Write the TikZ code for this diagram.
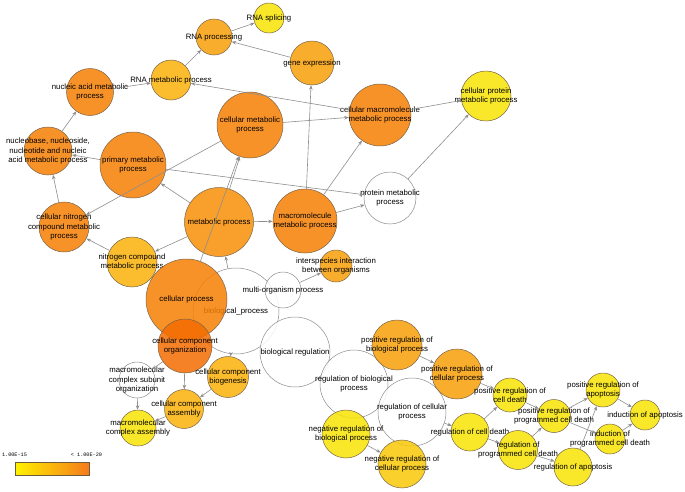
\documentclass[tikz,border=0pt]{standalone}
\usepackage{fontspec}
\setmainfont{Liberation Sans}
\newfontfamily\legendfont{Liberation Mono}
\usetikzlibrary{arrows.meta}
\definecolor{lvA}{HTML}{F36C00}
\definecolor{lvB}{HTML}{F67F04}
\definecolor{lvC}{HTML}{F88F07}
\definecolor{lvD}{HTML}{F89F08}
\definecolor{lvE}{HTML}{FAB109}
\definecolor{lvF}{HTML}{F8C807}
\definecolor{lvG}{HTML}{F7E404}
\definecolor{termrim}{HTML}{7A6448}
\definecolor{blankrim}{HTML}{8C8C8C}
\definecolor{linkgray}{HTML}{8E8E8E}
\definecolor{scalelow}{HTML}{FFF200}
\definecolor{scalehigh}{HTML}{F57A1A}
\definecolor{barrim}{HTML}{6E5A3C}
\tikzset{
    term/.style={circle, draw=termrim, line width=0.5pt, inner sep=0pt,
                 minimum size=#1pt, fill opacity=0.85},
    blank/.style={draw=blankrim, fill=white},
    termtext/.style={font=\fontsize{7.8}{9.5}\selectfont, align=center,
                     inner sep=0pt, text opacity=1, text=black},
    link/.style={draw=linkgray, line width=0.6pt,
                 -{Stealth[length=4.5pt, width=3.5pt]}},
    legendtext/.style={font=\legendfont\fontsize{5.2}{6}\selectfont, inner sep=0pt},
    legendbar/.style={draw=barrim, line width=0.6pt, left color=scalelow,
                      right color=scalehigh, minimum width=74pt,
                      minimum height=13pt, inner sep=0pt},
}

\begin{document}
\begin{tikzpicture}[x=1pt, y=-1pt]
    \useasboundingbox (0,0) rectangle (685,491);

    % metabolic part
    \node[term=30, fill=lvG, label={[termtext]center:RNA splicing}] (splice) at (269,18) {};
    \node[term=36, fill=lvD, label={[termtext]center:RNA processing}] (rnaproc) at (214,37) {};
    \node[term=44, fill=lvD, label={[termtext]center:gene expression}] (geneexp) at (312,63) {};
    \node[term=40, fill=lvE, label={[termtext]center:RNA metabolic process}] (rnamet) at (171,80) {};
    \node[term=47, fill=lvB, label={[termtext]center:{nucleic acid metabolic\\process}}] (nucacid) at (90,92) {};
    \node[term=66, fill=lvB, label={[termtext]center:{cellular metabolic\\process}}] (cellmet) at (250,125) {};
    \node[term=48, fill=lvB, label={[termtext]center:{nucleobase, nucleoside,\\nucleotide and nucleic\\acid metabolic process}}] (nucbase) at (48,151) {};
    \node[term=66, fill=lvB, label={[termtext]center:{primary metabolic\\process}}] (primet) at (133,165) {};
    \node[term=62, fill=lvB, label={[termtext]center:{cellular macromolecule\\metabolic process}}] (cmacro) at (380,115) {};
    \node[term=50, fill=lvG, label={[termtext]center:{cellular protein\\metabolic process}}] (cprot) at (486,96) {};
    \node[term=50, fill=lvB, label={[termtext]center:{cellular nitrogen\\compound metabolic\\process}}] (cnitro) at (64,227) {};
    \node[term=69, fill=lvC, label={[termtext]center:metabolic process}] (metab) at (219,222) {};
    \node[term=64, fill=lvB, label={[termtext]center:{macromolecule\\metabolic process}}] (macro) at (305,221) {};
    \node[term=50, fill=lvE, label={[termtext]center:{nitrogen compound\\metabolic process}}] (nitro) at (132,262) {};
    \node[term=52, blank, label={[termtext]center:{protein metabolic\\process}}] (protmet) at (390,198) {};

    % root and cellular part
    \node[term=86, blank, label={[termtext]center:biological\_process}] (bioproc) at (236,311) {};
    \node[term=36, blank, label={[termtext]center:multi-organism process}] (multi) at (283,290) {};
    \node[term=32, fill=lvD, label={[termtext]center:{interspecies interaction\\between organisms}}] (inter) at (336,266) {};
    \node[term=81, fill=lvB, label={[termtext]center:cellular process}] (cellproc) at (186.5,299.5) {};
    \node[term=54, fill=lvA, label={[termtext]center:{cellular component\\organization}}] (ccorg) at (185,346) {};
    \node[term=41, fill=lvE, label={[termtext]center:{cellular component\\biogenesis}}] (ccbio) at (228,377) {};
    \node[term=36, blank, label={[termtext]center:{macromolecular\\complex subunit\\organization}}] (mcsub) at (137,380) {};
    \node[term=39, fill=lvE, label={[termtext]center:{cellular component\\assembly}}] (ccasm) at (184,409) {};
    \node[term=36, fill=lvG, label={[termtext]center:{macromolecular\\complex assembly}}] (mcasm) at (138,428) {};

    % regulation part
    \node[term=70, blank, label={[termtext]center:biological regulation}] (bioreg) at (295,352) {};
    \node[term=68, blank, label={[termtext]center:{regulation of biological\\process}}] (regbio) at (354,384) {};
    \node[term=68, blank, label={[termtext]center:{regulation of cellular\\process}}] (regcell) at (412,412) {};
    \node[term=50, fill=lvD, label={[termtext]center:{positive regulation of\\biological process}}] (posbio) at (397,345) {};
    \node[term=50, fill=lvD, label={[termtext]center:{positive regulation of\\cellular process}}] (poscell) at (457,374) {};
    \node[term=48, fill=lvG, label={[termtext]center:{negative regulation of\\biological process}}] (negbio) at (346,434) {};
    \node[term=48, fill=lvF, label={[termtext]center:{negative regulation of\\cellular process}}] (negcell) at (402,464) {};
    \node[term=38, fill=lvG, label={[termtext]center:regulation of cell death}] (regdeath) at (470,432) {};
    \node[term=34, fill=lvG, label={[termtext]center:{positive regulation of\\cell death}}] (posdeath) at (510,395) {};
    \node[term=39, fill=lvG, label={[termtext]center:{regulation of\\programmed cell death}}] (regpcd) at (518,450) {};
    \node[term=33, fill=lvG, label={[termtext]center:{positive regulation of\\programmed cell death}}] (pospcd) at (554,416) {};
    \node[term=34, fill=lvG, label={[termtext]center:{positive regulation of\\apoptosis}}] (posapo) at (603,390) {};
    \node[term=30, fill=lvG, label={[termtext]center:{induction of\\programmed cell death}}] (indpcd) at (610,439) {};
    \node[term=30, fill=lvG, label={[termtext]center:induction of apoptosis}] (indapo) at (645,415) {};
    \node[term=38, fill=lvG, label={[termtext]center:regulation of apoptosis}] (regapo) at (573,467) {};

    % connectors
    \foreach \from/\to in {rnaproc/splice, geneexp/rnaproc, rnamet/rnaproc,
        nucacid/rnamet, cmacro/rnamet, nucbase/nucacid, primet/nucbase,
        cnitro/nucbase, cellmet/cmacro, cellmet/cnitro, primet/protmet,
        macro/protmet, protmet/cprot, cmacro/cprot, macro/cmacro,
        macro/geneexp, metab/macro, metab/primet, metab/cellmet,
        cellproc/cellmet, metab/nitro, nitro/cnitro, bioproc/metab,
        multi/inter, bioproc/ccbio, ccorg/mcsub, ccorg/ccasm, ccbio/ccasm,
        mcsub/mcasm, ccasm/mcasm, posbio/poscell, negbio/negcell,
        regcell/regdeath, regdeath/posdeath, poscell/posdeath,
        regdeath/regpcd, posdeath/pospcd, regpcd/pospcd, regpcd/regapo,
        pospcd/posapo, pospcd/indpcd, regapo/posapo, posapo/indapo,
        indpcd/indapo}
        \draw[link] (\from) -- (\to);

    % legend
    \node[legendtext] (lowval) at (14.5,455) {1.00E-15};
    \node[legendtext] (highval) at (86.5,455) {< 1.00E-20};
    \node[legendbar] (scalebar) at (52,468.5) {};
\end{tikzpicture}
\end{document}
